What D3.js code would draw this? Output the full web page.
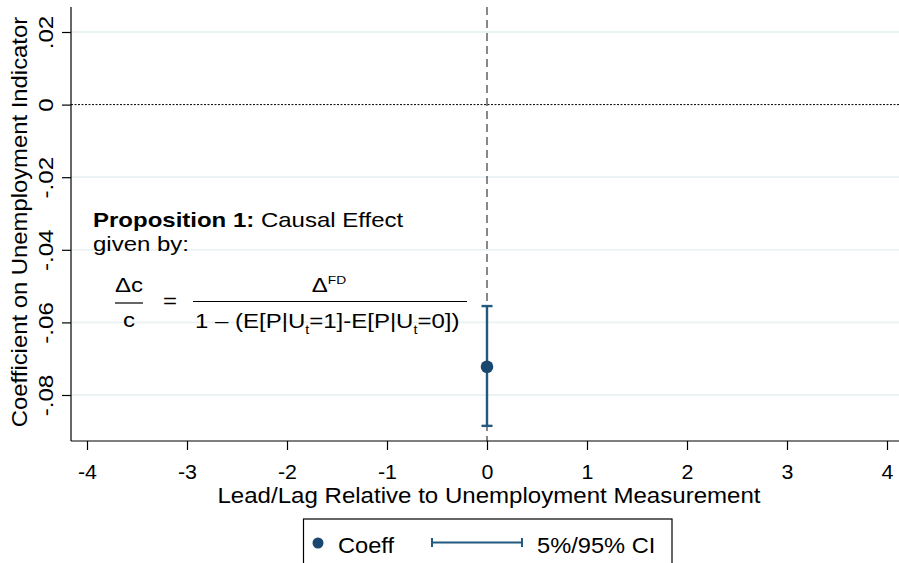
<!DOCTYPE html>
<html>
<head>
<meta charset="utf-8">
<script src="https://cdn.jsdelivr.net/npm/d3@7"></script>
<style>
  html, body { margin: 0; padding: 0; background: #fff; }
  svg text { font-family: "Liberation Sans", Arial, Helvetica, sans-serif; fill: #000; }
</style>
</head>
<body>
<svg id="chart" width="899" height="563"></svg>
<script>
// Event-study estimate at lag 0 with its 5%/95% confidence interval
const leads = [0];
const coeff = [-0.0722];
const ciLow = [-0.0885];
const ciHigh = [-0.0555];

const xTicks = [-4, -3, -2, -1, 0, 1, 2, 3, 4];
const yTicks = [0.02, 0, -0.02, -0.04, -0.06, -0.08];
const yTickLabels = [".02", "0", "-.02", "-.04", "-.06", "-.08"];

const navy = "#1a476f";
const ciColor = "#23587f";
const svg = d3.select("#chart");

const plot = { left: 71, right: 899, top: 7, bottom: 441 };

const x = d3.scaleLinear().domain([-4, 4]).range([87, 887]);
const y = d3.scaleLinear().domain([0.02, -0.08]).range([32, 395]);

// horizontal text, stretched along its baseline by sx
function hText(parent, tx, ty, size, anchor, sx, str) {
  const t = parent.append("text")
    .attr("transform", `translate(${tx},${ty}) scale(${sx},1)`)
    .attr("font-size", size).attr("text-anchor", anchor);
  if (str !== undefined) t.text(str);
  return t;
}

// horizontal gridlines
svg.append("g").selectAll("line").data(yTicks.filter(d => d !== 0)).join("line")
  .attr("x1", plot.left).attr("x2", plot.right)
  .attr("y1", d => y(d)).attr("y2", d => y(d))
  .attr("stroke", "#eaf2f3").attr("stroke-width", 1.8);

// reference line at zero
svg.append("line")
  .attr("x1", plot.left).attr("x2", plot.right)
  .attr("y1", y(0)).attr("y2", y(0))
  .attr("stroke", "#000").attr("stroke-width", 1).attr("stroke-dasharray", "2,1.5");

// vertical reference at the measurement period
svg.append("line")
  .attr("x1", x(0)).attr("x2", x(0))
  .attr("y1", plot.top).attr("y2", plot.bottom)
  .attr("stroke", "#3a3a3a").attr("stroke-width", 1.2).attr("stroke-dasharray", "8,5");

// y axis
const yAxis = d3.axisLeft(y).tickValues(yTicks).tickSize(9).tickFormat((d, i) => yTickLabels[i]);
const gy = svg.append("g").attr("transform", `translate(${plot.left},0)`).call(yAxis);
gy.select(".domain").remove();
gy.append("line").attr("x1", 0).attr("x2", 0).attr("y1", plot.top).attr("y2", plot.bottom)
  .attr("stroke", "#000").attr("stroke-width", 1.2);
gy.selectAll(".tick line").attr("stroke", "#000").attr("stroke-width", 1.2);
gy.selectAll(".tick text")
  .attr("font-size", 21).attr("fill", "#000")
  .attr("x", 0).attr("y", 0).attr("dy", 0)
  .attr("text-anchor", "middle")
  .attr("transform", "translate(-18,0) rotate(-90) scale(1.15,1)");

// x axis
const xAxis = d3.axisBottom(x).tickValues(xTicks).tickSize(9).tickFormat(d3.format("d"));
const gx = svg.append("g").attr("transform", `translate(0,${plot.bottom})`).call(xAxis);
gx.select(".domain").remove();
gx.append("line").attr("x1", plot.left).attr("x2", plot.right).attr("y1", 0).attr("y2", 0)
  .attr("stroke", "#000").attr("stroke-width", 1.2);
gx.selectAll(".tick line").attr("stroke", "#000").attr("stroke-width", 1.2);
gx.selectAll(".tick text").attr("font-size", 21).attr("fill", "#000")
  .attr("x", 0).attr("y", 0).attr("dy", 0)
  .attr("text-anchor", "middle")
  .attr("transform", "translate(0,38) scale(1.02,1)")
  .text(d => d < 0 ? "-" + Math.abs(d) : String(d));

// axis titles
svg.append("text").attr("transform", "translate(27,222) rotate(-90) scale(1.06,1)")
  .attr("text-anchor", "middle").attr("font-size", 22.5)
  .text("Coefficient on Unemployment Indicator");
hText(svg, 489, 503, 21.5, "middle", 1.12, "Lead/Lag Relative to Unemployment Measurement");

// confidence interval
const ci = svg.append("g");
leads.forEach((d, i) => {
  ci.append("line").attr("x1", x(d)).attr("x2", x(d)).attr("y1", y(ciHigh[i])).attr("y2", y(ciLow[i]))
    .attr("stroke", ciColor).attr("stroke-width", 2.4);
  [ciHigh[i], ciLow[i]].forEach(v => {
    ci.append("line").attr("x1", x(d) - 5.5).attr("x2", x(d) + 5.5).attr("y1", y(v)).attr("y2", y(v))
      .attr("stroke", ciColor).attr("stroke-width", 2.4);
  });
});
svg.append("g").selectAll("circle").data(leads).join("circle")
  .attr("cx", d => x(d)).attr("cy", (d, i) => y(coeff[i])).attr("r", 6.3).attr("fill", navy);

// annotation: Proposition 1
const note = svg.append("g");
const s = 1.2;
const t1 = hText(note, 93, 227, 20, "start", s);
t1.append("tspan").attr("font-weight", "bold").text("Proposition 1:");
t1.append("tspan").text(" Causal Effect");
hText(note, 93, 251, 20, "start", s, "given by:");
hText(note, 129, 292, 20, "middle", s, "Δc");
note.append("line").attr("x1", 115).attr("x2", 143).attr("y1", 303).attr("y2", 303).attr("stroke", "#000").attr("stroke-width", 1.2);
hText(note, 129, 327, 20, "middle", s, "c");
hText(note, 170, 308, 20, "middle", s, "=");
const num = hText(note, 329, 292, 20, "middle", s);
num.append("tspan").text("Δ");
num.append("tspan").attr("font-size", 11.5).attr("dy", -8).text("FD");
note.append("line").attr("x1", 193).attr("x2", 467).attr("y1", 301.5).attr("y2", 301.5).attr("stroke", "#000").attr("stroke-width", 1.2);
const den = hText(note, 195, 327.5, 20, "start", s);
den.append("tspan").text("1 – (E[P|U");
den.append("tspan").attr("font-size", 12).attr("dy", 6).text("t");
den.append("tspan").attr("dy", -6).text("=1]-E[P|U");
den.append("tspan").attr("font-size", 12).attr("dy", 6).text("t");
den.append("tspan").attr("dy", -6).text("=0])");

// legend
const lg = svg.append("g");
lg.append("rect").attr("x", 303.5).attr("y", 519).attr("width", 368.5).attr("height", 60)
  .attr("fill", "#fff").attr("stroke", "#000").attr("stroke-width", 1.2);
lg.append("circle").attr("cx", 318).attr("cy", 543).attr("r", 5.5).attr("fill", navy);
hText(lg, 338, 553, 21.5, "start", 1.1, "Coeff");
lg.append("line").attr("x1", 432).attr("x2", 522).attr("y1", 542.5).attr("y2", 542.5).attr("stroke", ciColor).attr("stroke-width", 2);
[432, 522].forEach(v => lg.append("line").attr("x1", v).attr("x2", v).attr("y1", 538).attr("y2", 547).attr("stroke", ciColor).attr("stroke-width", 2));
hText(lg, 537, 553, 21.5, "start", 1.1, "5%/95% CI");
</script>
</body>
</html>
